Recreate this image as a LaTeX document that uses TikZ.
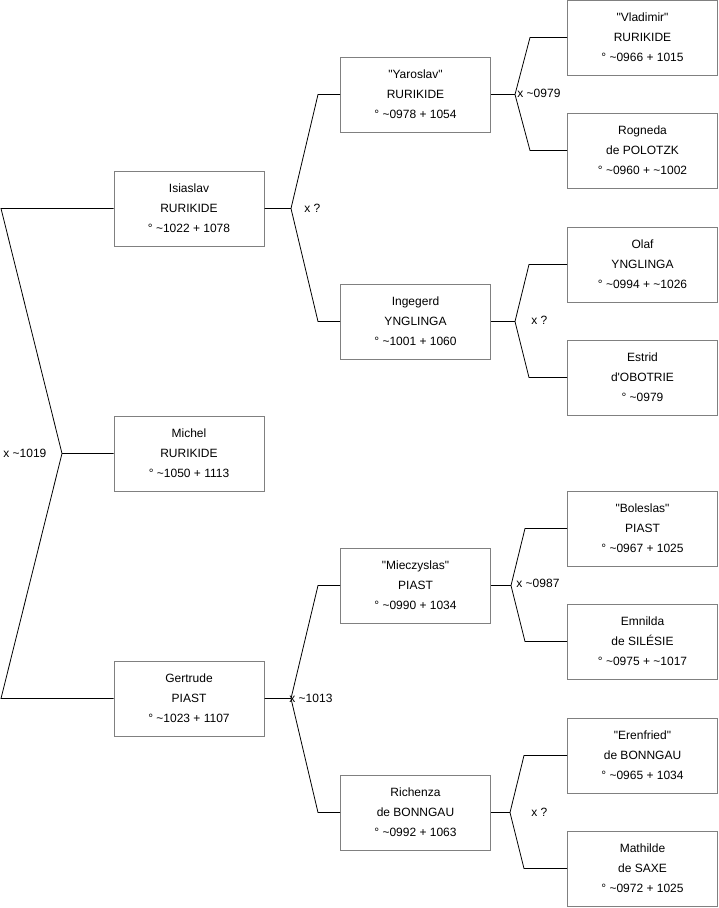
\documentclass[tikz,border=0pt]{standalone}
\usepackage{fontspec}
\setmainfont{Liberation Sans}[Ligatures=TeXOff]
\newcommand\tl{\textasciitilde}
\begin{document}
\begin{tikzpicture}[x=1pt,y=-1pt,line width=0.8pt,
    person/.style={draw=black!50,line width=1pt,fill=white,minimum width=150pt,
      minimum height=75pt,align=center,inner sep=0pt,font=\fontsize{12}{20}\selectfont},
    marr/.style={anchor=west,inner sep=1pt,font=\fontsize{12}{14}\selectfont}]
  \useasboundingbox (0,0) rectangle (719,908);
  % generation 1 and 2
  \node[person] (isiaslav) at (189,208.5) {Isiaslav\\RURIKIDE\\° \tl1022 + 1078};
  \node[person] (michel) at (189,453.5) {Michel\\RURIKIDE\\° \tl1050 + 1113};
  \node[person] (gertrude) at (189,698.5) {Gertrude\\PIAST\\° \tl1023 + 1107};
  % generation 3
  \node[person] (yaroslav) at (415.5,94.5) {"Yaroslav"\\RURIKIDE\\° \tl0978 + 1054};
  \node[person] (ingegerd) at (415.5,321.5) {Ingegerd\\YNGLINGA\\° \tl1001 + 1060};
  \node[person] (mieczyslas) at (415.5,585.5) {"Mieczyslas"\\PIAST\\° \tl0990 + 1034};
  \node[person] (richenza) at (415.5,812.5) {Richenza\\de BONNGAU\\° \tl0992 + 1063};
  % generation 4
  \node[person] (vladimir) at (642.5,37.5) {"Vladimir"\\RURIKIDE\\° \tl0966 + 1015};
  \node[person] (rogneda) at (642.5,150.5) {Rogneda\\de POLOTZK\\° \tl0960 + \tl1002};
  \node[person] (olaf) at (642.5,264.5) {Olaf\\YNGLINGA\\° \tl0994 + \tl1026};
  \node[person] (estrid) at (642.5,377.5) {Estrid\\d'OBOTRIE\\° \tl0979};
  \node[person] (boleslas) at (642.5,528.5) {"Boleslas"\\PIAST\\° \tl0967 + 1025};
  \node[person] (emnilda) at (642.5,641.5) {Emnilda\\de SILÉSIE\\° \tl0975 + \tl1017};
  \node[person] (erenfried) at (642.5,755.5) {"Erenfried"\\de BONNGAU\\° \tl0965 + 1034};
  \node[person] (mathilde) at (642.5,868.5) {Mathilde\\de SAXE\\° \tl0972 + 1025};
  % parents of Michel
  \coordinate (j0) at (62,453.5);
  \draw (michel.west) -- (j0) -- (isiaslav.west -| 1,0) -- (isiaslav.west)
        (j0) -- (gertrude.west -| 1,0) -- (gertrude.west);
  % the other couples
  \foreach \p/\f/\m/\jx/\ex in {isiaslav/yaroslav/ingegerd/291/318,
      yaroslav/vladimir/rogneda/515/530, ingegerd/olaf/estrid/515/529,
      gertrude/mieczyslas/richenza/291/318, mieczyslas/boleslas/emnilda/511/525,
      richenza/erenfried/mathilde/510/524}
    \draw (\p.east) -- (\p.east -| \jx,0) -- (\f.west -| \ex,0) -- (\f.west)
          (\p.east -| \jx,0) -- (\m.west -| \ex,0) -- (\m.west);
  % marriages
  \node[marr] (m0) at (2,453) {x \tl1019};
  \node[marr] (m1) at (303,208) {x ?};
  \node[marr] (m2) at (516,93) {x \tl0979};
  \node[marr] (m3) at (530,320) {x ?};
  \node[marr] (m4) at (288,698) {x \tl1013};
  \node[marr] (m5) at (515,583) {x \tl0987};
  \node[marr] (m6) at (530,812) {x ?};
\end{tikzpicture}
\end{document}
